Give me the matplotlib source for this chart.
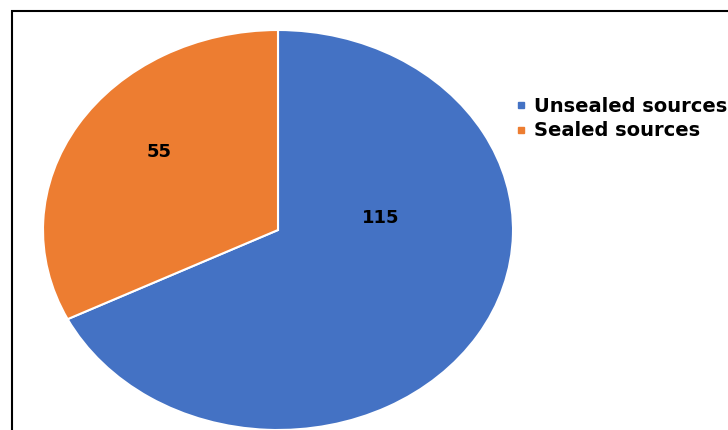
import matplotlib
matplotlib.use("Agg")
import matplotlib.pyplot as plt
from matplotlib.patches import Rectangle
from matplotlib.lines import Line2D

categories = ["Unsealed sources", "Sealed sources"]
values = [115, 55]
colors = ["#4472C4", "#ED7D31"]

W, H = 728, 430
fig = plt.figure(figsize=(W / 100, H / 100), dpi=100)

# pie axes (elliptical pie)
cx, cy, rx, ry = 278, 230, 235, 200
ax = fig.add_axes([(cx - rx) / W, 1 - (cy + ry) / H, 2 * rx / W, 2 * ry / H])
wedges, _ = ax.pie(values, colors=colors, startangle=90, counterclock=False,
                   wedgeprops=dict(edgecolor="white", linewidth=1.5))
ax.set_xlim(-1, 1)
ax.set_ylim(-1, 1)
ax.set_aspect("auto")
ax.axis("off")

# data labels
lbl_font = dict(fontsize=13, fontweight="bold", color="black", family="DejaVu Sans")
ax.text((381 - cx) / rx, -(218 - cy) / ry, str(values[0]), ha="center", va="center", **lbl_font)
ax.text((159 - cx) / rx, -(152 - cy) / ry, str(values[1]), ha="center", va="center", **lbl_font)

# legend
handles = [Line2D([0], [0], marker="s", linestyle="none", markersize=4.5,
                  markerfacecolor=c, markeredgecolor=c) for c in colors]
fig.legend(handles, categories, loc="upper left",
           bbox_to_anchor=(516 / W, 1 - 97 / H), frameon=False,
           prop=dict(family="DejaVu Sans", weight="bold", size=14),
           handlelength=0.5, handletextpad=0.4, labelspacing=0.28, borderaxespad=0,
           borderpad=0)

# outer frame
fig.patches.append(Rectangle((12 / W, -0.1), 2, 1 - 11 / H + 0.1, transform=fig.transFigure,
                             fill=False, edgecolor="black", linewidth=1.5, clip_on=False))

fig.savefig("out.png", dpi=100)
